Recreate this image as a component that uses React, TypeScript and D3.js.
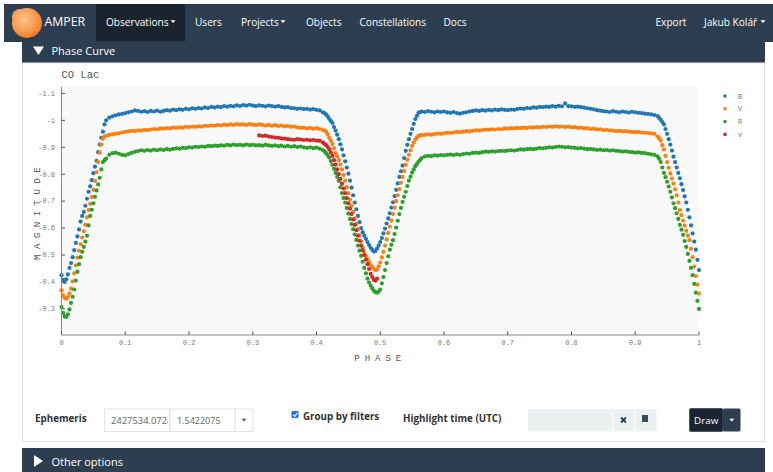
import React from "react";
import * as d3 from "d3";

// Phase bins of the folded light curve of CO Lac
const PHASE = [
  0, 0.005, 0.01, 0.015, 0.02, 0.025, 0.03, 0.035, 0.04, 0.045, 0.05, 0.055, 0.06, 0.065, 0.07, 0.075, 0.08, 0.085, 0.09, 0.095,
  0.1, 0.105, 0.11, 0.115, 0.12, 0.125, 0.13, 0.135, 0.14, 0.145, 0.15, 0.155, 0.16, 0.165, 0.17, 0.175, 0.18, 0.185, 0.19, 0.195,
  0.2, 0.205, 0.21, 0.215, 0.22, 0.225, 0.23, 0.235, 0.24, 0.245, 0.25, 0.255, 0.26, 0.265, 0.27, 0.275, 0.28, 0.285, 0.29, 0.295,
  0.3, 0.305, 0.31, 0.315, 0.32, 0.325, 0.33, 0.335, 0.34, 0.345, 0.35, 0.355, 0.36, 0.365, 0.37, 0.375, 0.38, 0.385, 0.39, 0.395,
  0.4, 0.405, 0.41, 0.415, 0.42, 0.425, 0.43, 0.435, 0.44, 0.445, 0.45, 0.455, 0.46, 0.465, 0.47, 0.475, 0.48, 0.485, 0.49, 0.495,
  0.5, 0.505, 0.51, 0.515, 0.52, 0.525, 0.53, 0.535, 0.54, 0.545, 0.55, 0.555, 0.56, 0.565, 0.57, 0.575, 0.58, 0.585, 0.59, 0.595,
  0.6, 0.605, 0.61, 0.615, 0.62, 0.625, 0.63, 0.635, 0.64, 0.645, 0.65, 0.655, 0.66, 0.665, 0.67, 0.675, 0.68, 0.685, 0.69, 0.695,
  0.7, 0.705, 0.71, 0.715, 0.72, 0.725, 0.73, 0.735, 0.74, 0.745, 0.75, 0.755, 0.76, 0.765, 0.77, 0.775, 0.78, 0.785, 0.79, 0.795,
  0.8, 0.805, 0.81, 0.815, 0.82, 0.825, 0.83, 0.835, 0.84, 0.845, 0.85, 0.855, 0.86, 0.865, 0.87, 0.875, 0.88, 0.885, 0.89, 0.895,
  0.9, 0.905, 0.91, 0.915, 0.92, 0.925, 0.93, 0.935, 0.94, 0.945, 0.95, 0.955, 0.96, 0.965, 0.97, 0.975, 0.98, 0.985, 0.99, 0.995,
  1,
];

const MAG_B = [
  -0.425, -0.400, -0.428, -0.470, -0.518, -0.569, -0.624, -0.660, -0.709, -0.755, -0.804, -0.850, -0.910, -0.958, -1.000, -1.010, -1.015, -1.019, -1.022, -1.024,
  -1.027, -1.030, -1.033, -1.037, -1.035, -1.032, -1.034, -1.031, -1.035, -1.033, -1.036, -1.032, -1.035, -1.038, -1.036, -1.040, -1.038, -1.041, -1.039, -1.043,
  -1.041, -1.045, -1.043, -1.046, -1.044, -1.048, -1.046, -1.050, -1.048, -1.051, -1.049, -1.053, -1.051, -1.054, -1.052, -1.056, -1.053, -1.057, -1.055, -1.058,
  -1.055, -1.053, -1.056, -1.054, -1.052, -1.055, -1.053, -1.051, -1.053, -1.050, -1.048, -1.049, -1.046, -1.045, -1.043, -1.044, -1.042, -1.043, -1.040, -1.042,
  -1.039, -1.037, -1.030, -1.022, -1.005, -0.990, -0.962, -0.930, -0.892, -0.848, -0.802, -0.750, -0.695, -0.645, -0.600, -0.572, -0.548, -0.527, -0.513, -0.524,
  -0.548, -0.580, -0.617, -0.655, -0.696, -0.742, -0.790, -0.832, -0.887, -0.930, -0.968, -1.005, -1.028, -1.033, -1.031, -1.034, -1.032, -1.030, -1.033, -1.031,
  -1.033, -1.030, -1.028, -1.031, -1.027, -1.025, -1.028, -1.030, -1.033, -1.035, -1.037, -1.035, -1.038, -1.036, -1.039, -1.037, -1.040, -1.038, -1.041, -1.039,
  -1.038, -1.040, -1.039, -1.042, -1.044, -1.043, -1.046, -1.045, -1.048, -1.047, -1.050, -1.049, -1.051, -1.050, -1.053, -1.051, -1.054, -1.052, -1.063, -1.053,
  -1.052, -1.050, -1.051, -1.049, -1.047, -1.045, -1.043, -1.041, -1.038, -1.036, -1.034, -1.033, -1.031, -1.034, -1.032, -1.030, -1.033, -1.031, -1.029, -1.032,
  -1.030, -1.028, -1.027, -1.025, -1.024, -1.022, -1.020, -1.016, -1.002, -0.985, -0.950, -0.910, -0.865, -0.825, -0.785, -0.741, -0.695, -0.640, -0.580, -0.520,
  -0.444,
];

const MAG_V = [
  -0.369, -0.340, -0.344, -0.375, -0.432, -0.490, -0.540, -0.588, -0.640, -0.690, -0.742, -0.808, -0.880, -0.932, -0.943, -0.946, -0.948, -0.950, -0.952, -0.955,
  -0.957, -0.959, -0.961, -0.960, -0.963, -0.962, -0.965, -0.964, -0.966, -0.968, -0.967, -0.970, -0.969, -0.971, -0.970, -0.973, -0.972, -0.974, -0.973, -0.976,
  -0.975, -0.977, -0.976, -0.978, -0.977, -0.980, -0.979, -0.981, -0.980, -0.982, -0.981, -0.984, -0.982, -0.985, -0.983, -0.986, -0.984, -0.985, -0.983, -0.986,
  -0.984, -0.982, -0.985, -0.983, -0.981, -0.983, -0.980, -0.982, -0.979, -0.981, -0.978, -0.979, -0.976, -0.977, -0.974, -0.972, -0.973, -0.970, -0.972, -0.969,
  -0.971, -0.968, -0.964, -0.958, -0.935, -0.912, -0.878, -0.852, -0.818, -0.776, -0.729, -0.683, -0.636, -0.596, -0.550, -0.508, -0.485, -0.463, -0.448, -0.446,
  -0.472, -0.512, -0.558, -0.605, -0.652, -0.700, -0.745, -0.790, -0.835, -0.872, -0.905, -0.929, -0.942, -0.945, -0.946, -0.948, -0.947, -0.949, -0.951, -0.950,
  -0.952, -0.954, -0.953, -0.955, -0.957, -0.956, -0.958, -0.960, -0.959, -0.961, -0.963, -0.962, -0.964, -0.966, -0.965, -0.967, -0.966, -0.968, -0.967, -0.970,
  -0.969, -0.971, -0.970, -0.972, -0.971, -0.973, -0.972, -0.974, -0.973, -0.975, -0.974, -0.976, -0.975, -0.977, -0.976, -0.978, -0.976, -0.977, -0.975, -0.977,
  -0.974, -0.975, -0.972, -0.973, -0.970, -0.971, -0.968, -0.969, -0.966, -0.967, -0.964, -0.965, -0.963, -0.962, -0.960, -0.961, -0.959, -0.960, -0.958, -0.957,
  -0.956, -0.957, -0.955, -0.954, -0.953, -0.952, -0.950, -0.940, -0.925, -0.892, -0.845, -0.803, -0.765, -0.722, -0.667, -0.628, -0.590, -0.555, -0.492, -0.422,
  -0.357,
];

const MAG_R = [
  -0.307, -0.272, -0.280, -0.322, -0.372, -0.438, -0.492, -0.530, -0.572, -0.645, -0.692, -0.740, -0.787, -0.845, -0.858, -0.872, -0.878, -0.880, -0.876, -0.872,
  -0.870, -0.875, -0.879, -0.883, -0.886, -0.889, -0.887, -0.890, -0.888, -0.891, -0.889, -0.892, -0.890, -0.893, -0.891, -0.894, -0.896, -0.895, -0.898, -0.897,
  -0.900, -0.899, -0.902, -0.901, -0.903, -0.902, -0.905, -0.904, -0.906, -0.905, -0.907, -0.906, -0.909, -0.907, -0.910, -0.908, -0.909, -0.907, -0.910, -0.908,
  -0.909, -0.907, -0.908, -0.906, -0.909, -0.907, -0.905, -0.907, -0.904, -0.906, -0.903, -0.905, -0.902, -0.904, -0.901, -0.903, -0.900, -0.898, -0.900, -0.897,
  -0.899, -0.895, -0.890, -0.878, -0.862, -0.835, -0.805, -0.775, -0.730, -0.695, -0.654, -0.615, -0.576, -0.535, -0.497, -0.452, -0.412, -0.386, -0.367, -0.360,
  -0.372, -0.418, -0.470, -0.520, -0.555, -0.602, -0.652, -0.697, -0.735, -0.776, -0.806, -0.830, -0.846, -0.860, -0.866, -0.868, -0.867, -0.870, -0.869, -0.871,
  -0.870, -0.872, -0.873, -0.871, -0.874, -0.872, -0.875, -0.877, -0.876, -0.879, -0.880, -0.879, -0.882, -0.884, -0.883, -0.885, -0.884, -0.886, -0.887, -0.886,
  -0.888, -0.889, -0.888, -0.890, -0.892, -0.891, -0.893, -0.894, -0.893, -0.895, -0.897, -0.896, -0.898, -0.900, -0.899, -0.901, -0.903, -0.902, -0.900, -0.901,
  -0.899, -0.898, -0.896, -0.897, -0.895, -0.893, -0.894, -0.892, -0.890, -0.891, -0.889, -0.890, -0.888, -0.889, -0.887, -0.886, -0.884, -0.885, -0.883, -0.882,
  -0.880, -0.881, -0.879, -0.878, -0.876, -0.874, -0.872, -0.866, -0.845, -0.805, -0.772, -0.735, -0.692, -0.655, -0.612, -0.575, -0.530, -0.478, -0.425, -0.360,
  -0.300,
];

// Extra bins on the eclipse branches, where the observations are denser
const PHASE_EDGE = [
  0.0025, 0.0075, 0.0125, 0.0175, 0.0225, 0.0275, 0.0325, 0.0375, 0.0425, 0.0475, 0.0525, 0.0575, 0.0625, 0.0675,
  0.4125, 0.4175, 0.4225, 0.4275, 0.4325, 0.4375, 0.4425, 0.4475, 0.4525, 0.4575, 0.4625, 0.4675, 0.4725, 0.4775, 0.4825, 0.4875,
  0.4925, 0.4975, 0.5025, 0.5075, 0.5125, 0.5175, 0.5225, 0.5275, 0.5325, 0.5375, 0.5425, 0.5475, 0.5525, 0.5575, 0.5625,
  0.9375, 0.9425, 0.9475, 0.9525, 0.9575, 0.9625, 0.9675, 0.9725, 0.9775, 0.9825, 0.9875, 0.9925, 0.9975,
];
const MAG_B_EDGE = [
  -0.408, -0.410, -0.452, -0.492, -0.545, -0.595, -0.645, -0.683, -0.735, -0.778, -0.828, -0.882, -0.935, -0.985,
  -1.027, -1.015, -0.998, -0.975, -0.947, -0.911, -0.870, -0.825, -0.776, -0.722, -0.670, -0.622, -0.585, -0.560, -0.537, -0.519,
  -0.515, -0.535, -0.563, -0.598, -0.636, -0.676, -0.719, -0.766, -0.811, -0.860, -0.909, -0.950, -0.987, -1.017, -1.031,
  -1.009, -0.994, -0.968, -0.930, -0.888, -0.845, -0.805, -0.763, -0.718, -0.668, -0.610, -0.550, -0.482,
];
const MAG_V_EDGE = [
  -0.350, -0.338, -0.357, -0.402, -0.462, -0.516, -0.565, -0.612, -0.667, -0.715, -0.775, -0.845, -0.910, -0.940,
  -0.962, -0.948, -0.924, -0.896, -0.866, -0.836, -0.797, -0.752, -0.706, -0.660, -0.616, -0.573, -0.528, -0.496, -0.474, -0.455,
  -0.444, -0.458, -0.491, -0.535, -0.582, -0.628, -0.676, -0.722, -0.768, -0.812, -0.854, -0.889, -0.918, -0.936, -0.944,
  -0.933, -0.908, -0.868, -0.824, -0.784, -0.744, -0.695, -0.648, -0.609, -0.572, -0.523, -0.457, -0.390,
];
const MAG_R_EDGE = [
  -0.285, -0.270, -0.298, -0.345, -0.405, -0.466, -0.512, -0.550, -0.610, -0.668, -0.716, -0.762, -0.818, -0.852,
  -0.885, -0.871, -0.849, -0.820, -0.790, -0.752, -0.712, -0.675, -0.634, -0.596, -0.556, -0.516, -0.475, -0.432, -0.398, -0.376,
  -0.362, -0.364, -0.395, -0.444, -0.495, -0.538, -0.578, -0.627, -0.675, -0.716, -0.756, -0.791, -0.818, -0.838, -0.853,
  -0.857, -0.825, -0.789, -0.754, -0.714, -0.674, -0.634, -0.594, -0.552, -0.504, -0.452, -0.393, -0.330,
];

// Visual (lowercase v) observations cover only part of the cycle
const PHASE_VIS = [
  0.31, 0.315, 0.32, 0.325, 0.33, 0.335, 0.34, 0.345, 0.35, 0.355, 0.36, 0.365, 0.37, 0.375, 0.38, 0.385, 0.39, 0.395, 0.4,
  0.405, 0.41, 0.415, 0.42, 0.425, 0.43, 0.435, 0.44, 0.445, 0.45, 0.455, 0.46, 0.465, 0.47, 0.475, 0.48, 0.485, 0.49, 0.495,
  0.4125, 0.4175, 0.4225, 0.4275, 0.4325, 0.4375, 0.4425, 0.4475, 0.4525, 0.4575, 0.4625, 0.4675, 0.4725, 0.4775, 0.4825,
  0.4875, 0.4925,
];
const MAG_VIS = [
  -0.944, -0.942, -0.943, -0.940, -0.938, -0.936, -0.935, -0.933, -0.932, -0.930, -0.929, -0.928, -0.930, -0.929, -0.927, -0.928, -0.926, -0.927, -0.925,
  -0.924, -0.918, -0.908, -0.892, -0.868, -0.836, -0.800, -0.765, -0.730, -0.692, -0.652, -0.612, -0.572, -0.535, -0.500, -0.466, -0.430, -0.408, -0.412,
  -0.913, -0.901, -0.881, -0.852, -0.818, -0.783, -0.747, -0.711, -0.672, -0.632, -0.592, -0.553, -0.518, -0.483, -0.448,
  -0.418, -0.405,
];

const FILTER_NAMES = ["B", "V", "R", "v"];
const FILTER_COLORS = ["#1f77b4", "#ff7f0e", "#2ca02c", "#d62728"];

const X_TICKS = [0, 0.1, 0.2, 0.3, 0.4, 0.5, 0.6, 0.7, 0.8, 0.9, 1];
const X_TICK_LABELS = ["0", "0.1", "0.2", "0.3", "0.4", "0.5", "0.6", "0.7", "0.8", "0.9", "1"];
const Y_TICKS = [-1.1, -1, -0.9, -0.8, -0.7, -0.6, -0.5, -0.4, -0.3];
const Y_TICK_LABELS = ["-1.1", "-1", "-0.9", "-0.8", "-0.7", "-0.6", "-0.5", "-0.4", "-0.3"];

const NAV_ITEMS = [
  { label: "Observations", x: 106 },
  { label: "Users", x: 195 },
  { label: "Projects", x: 241 },
  { label: "Objects", x: 306 },
  { label: "Constellations", x: 359.5 },
  { label: "Docs", x: 443.5 },
  { label: "Export", x: 655.5 },
  { label: "Jakub Kolář", x: 704 },
];

const DARK = "#2c3e50";
const DARKER = "#1a242f";
const MONO = "'Liberation Mono', 'DejaVu Sans Mono', monospace";
const SANS = "'Open Sans', sans-serif";

function Caret({ x, y, color }: { x: number; y: number; color: string }) {
  return <path d={`M${x - 2.5},${y - 1.2} L${x + 2.5},${y - 1.2} L${x},${y + 1.5} Z`} fill={color} />;
}

export default function App() {
  const x = d3.scaleLinear().domain([0, 1]).range([61.5, 699]);
  const y = d3.scaleLinear().domain([-0.203, -1.125]).range([335, 86.7]);

  const bands = [
    { phase: PHASE.concat(PHASE_EDGE), mag: MAG_B.concat(MAG_B_EDGE) },
    { phase: PHASE.concat(PHASE_EDGE), mag: MAG_V.concat(MAG_V_EDGE) },
    { phase: PHASE.concat(PHASE_EDGE), mag: MAG_R.concat(MAG_R_EDGE) },
    { phase: PHASE_VIS, mag: MAG_VIS },
  ];

  const [x0, x1] = x.range();
  const [yb, yt] = y.range();

  return (
    <svg
      width={773}
      height={472}
      viewBox="0 0 773 472"
      style={{ position: "absolute", left: 0, top: 0, display: "block" }}
      fontFamily={SANS}
    >
      <rect x={0} y={0} width={773} height={472} fill="#fff" />

      {/* Navigation bar */}
      <rect x={4} y={4} width={769} height={38} fill={DARK} />
      <rect x={96} y={4} width={89} height={37.5} fill={DARKER} />
      <defs>
        <radialGradient id="logoGlow" cx="0.4" cy="0.38" r="0.65">
          <stop offset="0" stopColor="#fbc58c" />
          <stop offset="0.55" stopColor="#f7a057" />
          <stop offset="1" stopColor="#f07a22" />
        </radialGradient>
        <clipPath id="ephClip">
          <rect x={105} y={409} width={63} height={22} />
        </clipPath>
      </defs>
      <circle cx={20} cy={17} r={8} fill="#f9b46a" opacity={0.9} />
      <circle cx={27} cy={23} r={15} fill="url(#logoGlow)" />
      <text x={44.5} y={26} fontSize={12.3} fill="#fff">AMPER</text>
      {NAV_ITEMS.map((n) => (
        <text key={n.label} x={n.x} y={25.5} fontSize={10.1} fill="#fff">{n.label}</text>
      ))}
      <Caret x={173} y={21.5} color="#fff" />
      <Caret x={283} y={21.5} color="#fff" />
      <Caret x={763} y={21.5} color="#fff" />

      {/* Phase curve panel */}
      <rect x={22} y={42} width={743} height={21} fill={DARK} />
      <path d="M33,46.5 L44,46.5 L38.5,55 Z" fill="#fff" />
      <text x={51.5} y={54.5} fontSize={11} fill="#fff">Phase Curve</text>
      <rect x={22.5} y={63} width={742} height={378.5} fill="#fff" stroke="#e3e3e3" />

      {/* Chart */}
      <rect x={x0} y={yt} width={x1 - x0} height={yb - yt} fill="#f9f9f9" />
      <text x={61.5} y={78} fontSize={10.5} fill="#555" fontFamily={MONO}>CO Lac</text>

      {bands.map((b, k) => (
        <g key={FILTER_NAMES[k]} fill={FILTER_COLORS[k]}>
          {b.phase.map((p, i) => (
            <circle key={i} cx={x(p)} cy={y(b.mag[i])} r={2.1} />
          ))}
        </g>
      ))}

      {/* Axes */}
      <line x1={x0} x2={x0} y1={yt} y2={yb} stroke="#888" strokeWidth={1} />
      <line x1={x0} x2={x1} y1={yb} y2={yb} stroke="#888" strokeWidth={1} />
      {X_TICKS.map((t, i) => (
        <g key={t}>
          <line x1={x(t)} x2={x(t)} y1={yb} y2={yb - 3.5} stroke="#555" />
          <text x={x(t)} y={345} fontSize={7} fill="#777" textAnchor="middle" fontFamily={MONO}>
            {X_TICK_LABELS[i]}
          </text>
        </g>
      ))}
      {Y_TICKS.map((t, i) => (
        <g key={t}>
          <line x1={x0} x2={x0 + 3.5} y1={y(t)} y2={y(t)} stroke="#555" />
          <text x={55} y={y(t) + 2.3} fontSize={7} fill="#777" textAnchor="end" fontFamily={MONO}>
            {Y_TICK_LABELS[i]}
          </text>
        </g>
      ))}
      <text
        x={(x0 + x1) / 2}
        y={360.5}
        fontSize={9}
        fill="#555"
        textAnchor="middle"
        letterSpacing={5}
        fontFamily={MONO}
      >
        PHASE
      </text>
      <text
        transform={`translate(40, ${(yt + yb) / 2}) rotate(-90)`}
        fontSize={9}
        fill="#555"
        textAnchor="middle"
        letterSpacing={5.5}
        fontFamily={MONO}
      >
        MAGNITUDE
      </text>

      {/* Legend */}
      {FILTER_NAMES.map((n, i) => (
        <g key={n + i}>
          <circle cx={725} cy={96 + i * 12.8} r={1.8} fill={FILTER_COLORS[i]} />
          <text x={738} y={98.5 + i * 12.8} fontSize={7} fill="#777" fontFamily={MONO}>{n}</text>
        </g>
      ))}

      {/* Controls */}
      <text x={35} y={421.5} fontSize={9.8} fontWeight="bold" fill="#333">Ephemeris</text>
      <rect x={104.5} y={409} width={65} height={22.5} fill="#fff" stroke="#dfe5ea" />
      <g clipPath="url(#ephClip)">
        <text x={111} y={423.5} fontSize={9.4} fill="#666">2427534.0724</text>
      </g>
      <rect x={170} y={409} width={65} height={22.5} fill="#fff" stroke="#dfe5ea" />
      <text x={177} y={423.5} fontSize={9} fill="#666">1.5422075</text>
      <rect x={235} y={409} width={18} height={22.5} fill="#fff" stroke="#dfe5ea" />
      <Caret x={244} y={420} color="#555" />

      <rect x={291.5} y={411} width={7} height={7} rx={1.2} fill="#1a73e8" />
      <path d="M293,414.6 L294.8,416.3 L297.3,412.8" stroke="#fff" strokeWidth={1.2} fill="none" />
      <text x={303} y={419.5} fontSize={9.8} fontWeight="bold" fill="#333">Group by filters</text>

      <text x={403} y={421.5} fontSize={9.8} fontWeight="bold" fill="#333">Highlight time (UTC)</text>
      <rect x={528} y={409} width={128.5} height={22.5} rx={2} fill="#ecf0f1" />
      <line x1={612.5} x2={612.5} y1={409} y2={431.5} stroke="#fff" strokeWidth={1} />
      <line x1={635} x2={635} y1={409} y2={431.5} stroke="#fff" strokeWidth={1} />
      <path d="M621,417.5 L626,422.5 M626,417.5 L621,422.5" stroke="#2c3e50" strokeWidth={1.8} />
      <rect x={642} y={416} width={6} height={6} fill="#3c4a58" />
      <rect x={642} y={415} width={6} height={1.3} fill="#3c4a58" />

      <rect x={689.5} y={408.5} width={33.5} height={23} rx={1.5} fill={DARKER} stroke="#4b5866" />
      <text x={706.2} y={423.5} fontSize={9.8} fill="#fff" textAnchor="middle">Draw</text>
      <rect x={723} y={408.5} width={17.5} height={23} rx={1.5} fill={DARK} />
      <Caret x={731.8} y={420} color="#fff" />

      {/* Other options panel */}
      <rect x={22} y={448} width={743} height={24} fill={DARK} />
      <path d="M34,455 L34,467 L43,461 Z" fill="#fff" />
      <text x={51.5} y={466} fontSize={11} fill="#fff">Other options</text>
    </svg>
  );
}
